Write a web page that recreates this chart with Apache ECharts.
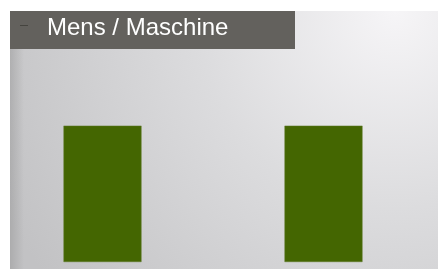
<!DOCTYPE html>
<html>
<head>
<meta charset="utf-8">
<script src="https://cdn.jsdelivr.net/npm/echarts@6/dist/echarts.min.js"></script>
<style>
html,body{margin:0;padding:0;background:#fff;}
#main{width:438px;height:270px;}
</style>
</head>
<body>
<div id="main"></div>
<script>
// data
var titleText = 'Mens / Maschine';
var categories = ['Mens', 'Maschine'];
var values = [64, 64];
var yMax = 100;

var chart = echarts.init(document.getElementById('main'));
chart.setOption({
	animation: false,
	title: {
		text: titleText,
		left: 47,
		top: 16,
		padding: 0,
		textStyle: {
			color: '#ffffff',
			fontFamily: 'Liberation Sans',
			fontWeight: 'normal',
			fontSize: 24
		}
	},
	graphic: [{
		type: 'rect',
		z: -10,
		shape: {x: 10, y: 11, width: 428, height: 258},
		style: {
			fill: new echarts.graphic.RadialGradient(0.9, 0.0, 1.7, [
				{offset: 0, color: '#f6f5f7'},
				{offset: 0.45, color: '#dcdcde'},
				{offset: 1, color: '#c2c2c4'}
			])
		}
	}, {
		type: 'rect',
		z: -5,
		shape: {x: 10, y: 11, width: 14, height: 258},
		style: {
			fill: new echarts.graphic.LinearGradient(0, 0, 1, 0, [
				{offset: 0, color: 'rgba(140,140,140,0.4)'},
				{offset: 1, color: 'rgba(140,140,140,0)'}
			])
		}
	}, {
		type: 'rect',
		z: -4,
		shape: {x: 10, y: 11, width: 285, height: 38},
		style: {fill: '#63615d'}
	}, {
		type: 'rect',
		z: -3,
		shape: {x: 20, y: 25, width: 8, height: 1},
		style: {fill: '#45443f'}
	}],
	grid: {left: -8, width: 442, top: 49, bottom: 8, outerBoundsMode: 'none'},
	xAxis: {
		type: 'category',
		data: categories,
		show: false
	},
	yAxis: {
		type: 'value',
		min: 0,
		max: yMax,
		show: false
	},
	series: [{
		type: 'bar',
		data: values,
		barWidth: 78,
		itemStyle: {
			color: '#446601',
			borderColor: '#5e7a2a',
			borderWidth: 0.5
		}
	}]
});
</script>
</body>
</html>
